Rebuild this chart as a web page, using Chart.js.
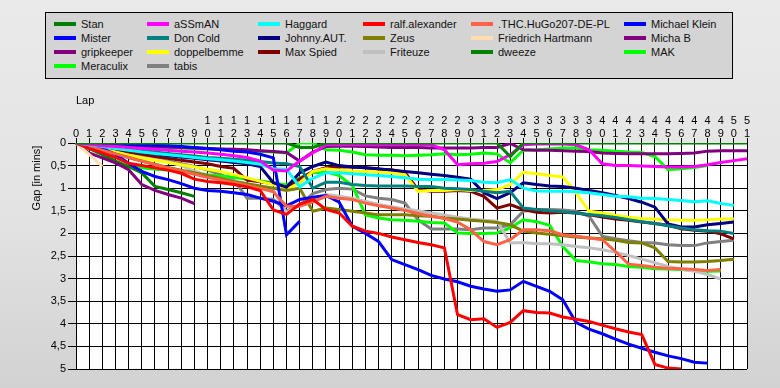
<!DOCTYPE html>
<html>
<head>
<meta charset="utf-8">
<script src="https://cdn.jsdelivr.net/npm/chart.js@4"></script>
<style>
html,body{margin:0;padding:0;}
body{width:780px;height:388px;overflow:hidden;position:relative;
  background:linear-gradient(to bottom,#eaeaea 0%,#e3e3e3 55%,#d2d2d2 100%);
  font-family:"Liberation Sans",Arial,sans-serif;}
#c{position:absolute;left:0;top:0;}
#legendBox{position:absolute;left:45px;top:12px;width:688px;height:67px;box-sizing:border-box;
  background:#d4d4d4;border:1px solid #000;}
.item{position:absolute;height:14px;font-size:11px;line-height:14px;color:#111;white-space:nowrap;}
.item i{position:absolute;left:0;top:5px;width:22px;height:4px;}
.item span{position:absolute;left:27px;top:0;}
#ytitle{position:absolute;left:-5px;top:171px;width:82px;height:14px;line-height:14px;
  font-size:11px;text-align:center;color:#000;transform:rotate(-90deg);white-space:nowrap;}
</style>
</head>
<body>
<canvas id="c" width="780" height="388"></canvas>
<div id="legendBox"></div>
<div id="ytitle">Gap [in mins]</div>
<script>
// ---- data ----
const laps = [0,1,2,3,4,5,6,7,8,9,10,11,12,13,14,15,16,17,18,19,20,21,22,23,24,25,26,27,28,29,30,31,32,33,34,35,36,37,38,39,40,41,42,43,44,45,46,47,48,49,50,51];
const yTicks = [0,0.5,1,1.5,2,2.5,3,3.5,4,4.5,5];

const stan = [0,0,0,0,0,0,0,0,0,0, 0,0,0,0,0,0,0,0.1,0.1,0, 0,0,0,0,0,0,0,0,0,0, 0,0,0,0.3,0,0,0,0,0,0, 0,0,0,0,0,0,0,0,0,0, 0,0];
const assman = [0,0.03,0.06,0.08,0.1,0.12,0.14,0.16,0.18,0.2, 0.22,0.25,0.28,0.32,0.4,0.6,0.62,0.4,0.22,0.04, 0.04,0.04,0.04,0.04,0.04,0.04,0.04,0.04,0.15,0.48, 0.46,0.45,0.41,0.26,0.04,0.02,0.02,0.02,0.04,0.15, 0.46,0.5,0.5,0.51,0.52,0.53,0.53,0.52,0.48,0.43, 0.39,0.35];
const haggard = [0,0.04,0.08,0.12,0.16,0.2,0.23,0.26,0.29,0.32, 0.35,0.37,0.4,0.43,0.47,0.57,0.58,0.97,0.78,0.66, 0.66,0.68,0.7,0.72,0.74,0.77,0.8,0.81,0.81,0.82, 0.83,0.87,0.88,0.81,1.0,1.06,1.07,1.07,1.08,1.1, 1.14,1.18,1.19,1.22,1.23,1.25,1.27,1.3,1.28,1.34, 1.38];
const ralf = [0,0.12,0.22,0.32,0.45,0.5,0.55,0.6,0.67,0.8, 0.85,0.88,0.92,0.97,1.05,1.48,1.58,1.35,1.25,1.47, 1.55,1.84,1.95,2.0,2.08,2.14,2.2,2.25,2.32,3.8, 3.91,3.89,4.08,3.97,3.71,3.75,3.76,3.85,3.9,3.95, 4.03,4.11,4.18,4.24,4.9,4.98,5.0];
const thc = [0,0.08,0.16,0.24,0.32,0.4,0.48,0.55,0.62,0.69, 0.76,0.82,0.88,0.94,1.0,1.08,1.4,1.4,1.3,1.18, 1.22,1.25,1.33,1.39,1.44,1.49,1.56,1.62,1.67,1.75, 1.92,2.18,2.25,2.14,1.92,1.92,1.94,2.03,2.06,2.1, 2.14,2.4,2.68,2.71,2.75,2.77,2.78,2.8,2.82,2.8];
const michaelKlein = [0,0.05,0.12,0.25,0.45,0.63,0.74,0.81,0.9,1.0, 1.05,1.07,1.1,1.14,1.22,1.29,1.39,1.25,1.2,1.16, 1.31,1.84,2.0,2.18,2.58,2.69,2.8,2.93,3.01,3.07, 3.17,3.23,3.28,3.25,3.06,3.17,3.28,3.47,3.97,4.12, 4.22,4.34,4.45,4.54,4.63,4.71,4.77,4.85,4.87];
const mister = [0,0.01,0.02,0.03,0.04,0.05,0.05,0.06,0.08,0.1, 0.12,0.15,0.18,0.2,0.25,0.33,2.03,1.73];
const donCold = [0,0.04,0.08,0.11,0.14,0.17,0.2,0.23,0.26,0.29, 0.32,0.34,0.36,0.38,0.41,0.44,0.46,0.52,1.0,0.87, 0.87,0.92,0.94,0.95,0.95,0.95,0.96,0.96,1.0,1.01, 1.03,1.07,1.1,1.07,1.44,1.47,1.5,1.52,1.55,1.58, 1.61,1.65,1.7,1.74,1.78,1.83,1.88,1.92,1.94,1.95, 2.0];
const johnny = [0,0.04,0.08,0.12,0.16,0.2,0.24,0.28,0.31,0.34, 0.37,0.4,0.43,0.46,0.52,0.88,0.98,0.66,0.52,0.42, 0.5,0.53,0.55,0.57,0.6,0.63,0.66,0.69,0.72,0.76, 0.8,1.1,1.23,1.1,0.88,0.92,0.95,0.96,1.0,1.05, 1.1,1.16,1.23,1.31,1.42,1.79,1.86,1.86,1.81,1.78, 1.75];
const zeus = [0,0.08,0.16,0.24,0.32,0.4,0.47,0.54,0.6,0.66, 0.72,0.78,0.85,0.9,0.95,1.0,1.05,1.0,1.51,1.44, 1.47,1.51,1.55,1.59,1.59,1.59,1.61,1.62,1.66,1.68, 1.71,1.73,1.76,1.81,1.95,1.99,2.02,2.05,2.08,2.1, 2.12,2.15,2.2,2.21,2.32,2.62,2.63,2.63,2.62,2.6, 2.57];
const friedrich = [0,0.25,0.52];
const michaB = [0,0.02,0.04,0.05,0.06,0.07,0.08,0.09,0.1,0.11, 0.12,0.13,0.14,0.15,0.17,0.19,0.21,0.4,0.2,0.08, 0.07,0.07,0.08,0.09,0.1,0.1,0.1,0.11,0.11,0.11, 0.11,0.1,0.1,0.01,0.15,0.16,0.16,0.17,0.18,0.19, 0.22,0.23,0.24,0.24,0.24,0.24,0.23,0.22,0.18,0.17, 0.17,0.17];
const gripkeeper = [0,0.22,0.33,0.44,0.59,0.92,1.05,1.14,1.22,1.34];
const doppelbemme = [0,0.05,0.12,0.2,0.27,0.33,0.38,0.43,0.48,0.53, 0.58,0.63,0.7,0.77,0.85,0.92,1.03,0.88,0.63,0.57, 0.6,0.62,0.63,0.64,0.66,0.7,1.07,1.05,1.05,1.03, 1.05,1.05,1.03,0.92,0.65,0.68,0.72,0.75,1.1,1.51, 1.55,1.6,1.64,1.67,1.68,1.7,1.71,1.71,1.7,1.68, 1.68];
const maxSpied = [0,0.05,0.1,0.15,0.2,0.25,0.3,0.34,0.38,0.42, 0.46,0.52,0.56,0.82,0.86,0.9,0.98,0.8,0.63,0.55, 0.53,0.53,0.55,0.58,0.59,0.65,1.03,1.07,1.07,1.05, 1.07,1.18,1.44,1.36,1.47,1.53,1.55,1.53,1.55,1.59, 1.64,1.68,1.71,1.75,1.78,1.82,1.9,1.93,1.95,2.01, 2.12];
const friteuze = [0,0.06,0.12,0.18,0.24,0.3,0.36,0.42,0.5,0.62, 0.72,0.78,0.84,0.9,0.97,1.05,1.55,1.35,1.22,1.14, 1.18,1.22,1.29,1.36,1.41,1.46,1.5,1.55,1.59,1.64, 1.68,1.71,1.73,2.21,2.2,2.23,2.23,2.25,2.29,2.32, 2.36,2.42,2.49,2.57,2.65,2.73,2.79,2.84,2.91,3.01];
const dweeze = [0,0.12,0.25,0.4,0.52,0.66,0.96,1.03,1.1,1.18];
const mak = [0,0.02,0.04,0.06,0.07,0.08,0.09,0.1,0.11,0.12, 0.13,0.14,0.15,0.16,0.18,0.2,0.22,0,0,0.15, 0.16,0.2,0.26,0.27,0.27,0.28,0.27,0.26,0.24,0.26, 0.25,0.22,0.24,0.44,0.16,0.15,0.13,0.11,0.11,0.15, 0.16,0.18,0.2,0.21,0.3,0.59,0.57,0.54,0.5];
const meraculix = [0,0.12,0.26,0.44,0.52,0.55,0.58,0.6,0.63,0.66, 0.7,0.73,0.76,0.8,0.84,0.88,0.93,0.77,0.66,0.64, 0.72,0.94,1.59,1.66,1.7,1.71,1.73,1.76,1.77,1.99, 2.0,2.0,1.99,1.88,1.7,1.74,1.82,2.29,2.6,2.63, 2.67,2.69,2.73,2.75,2.78,2.79,2.8,2.82,2.84,2.83];
const tabis = [0,0.05,0.1,0.16,0.22,0.28,0.34,0.4,0.46,0.52, 0.6,0.7,0.82,1.22,1.22,1.25,1.5,1.38,1.12,1.03, 1.0,1.02,1.17,1.22,1.25,1.33,1.7,1.9,1.9,1.9, 1.92,1.88,1.88,1.81,1.51,1.47,1.47,1.48,1.51,1.62, 2.06,2.12,2.16,2.2,2.21,2.25,2.27,2.27,2.21,2.18, 2.15];

// legend order (row-major, 6 columns)
const seriesNames = ['Stan','aSSmAN','Haggard','ralf.alexander','.THC.HuGo207-DE-PL','Michael Klein',
  'Mister','Don Cold','Johnny.AUT.','Zeus','Friedrich Hartmann','Micha B',
  'gripkeeper','doppelbemme','Max Spied','Friteuze','dweeze','MAK',
  'Meraculix','tabis'];
const seriesValues = [stan,assman,haggard,ralf,thc,michaelKlein,
  mister,donCold,johnny,zeus,friedrich,michaB,
  gripkeeper,doppelbemme,maxSpied,friteuze,dweeze,mak,
  meraculix,tabis];
const seriesColors = ['#008000','#ff00ff','#00ffff','#ff0000','#ff6347','#0000ff',
  '#0000ff','#008080','#000080','#808000','#ffdead','#800080',
  '#800080','#ffff00','#800000','#c0c0c0','#008000','#00ff00',
  '#00ff00','#808080'];

// ---- layout ----
const FONT = '"Liberation Sans", Arial, sans-serif';
const legendCols = [54,147,258,363,471,624];
const legendRowTop = 17, legendRowStep = 14;

const box = document.getElementById('legendBox');
seriesNames.forEach((n, i) => {
  const d = document.createElement('div');
  d.className = 'item';
  d.style.left = (legendCols[i % 6] - 45 - 1) + 'px';
  d.style.top = (legendRowTop + Math.floor(i / 6) * legendRowStep - 12 - 1) + 'px';
  const sw = document.createElement('i');
  sw.style.background = seriesColors[i];
  const t = document.createElement('span');
  t.textContent = n;
  d.appendChild(sw); d.appendChild(t);
  box.appendChild(d);
});

const lapLabels = laps.map(l => l >= 10 ? [String(Math.floor(l / 10)), String(l % 10)] : ['', String(l)]);

const datasets = seriesNames.map((n, i) => ({
  label: n,
  data: seriesValues[i],
  borderColor: seriesColors[i],
  backgroundColor: seriesColors[i],
  borderWidth: 3,
  pointRadius: 0,
  tension: 0,
  fill: false
}));

const plotBg = {
  id: 'plotBg',
  beforeDraw(c) {
    const a = c.chartArea, ctx = c.ctx;
    ctx.save();
    ctx.fillStyle = '#ffffff';
    ctx.fillRect(a.left, a.top, a.right - a.left, a.bottom - a.top);
    ctx.restore();
  }
};

new Chart(document.getElementById('c'), {
  type: 'line',
  data: { labels: lapLabels, datasets },
  options: {
    responsive: false,
    animation: false,
    layout: { padding: { left: 0, top: 0, right: 33, bottom: 19 } },
    plugins: { legend: { display: false }, tooltip: { enabled: false } },
    scales: {
      x: {
        position: 'top',
        offset: false,
        grid: { color: '#000', lineWidth: 1, tickLength: 5, drawTicks: true },
        border: { color: '#000', width: 1 },
        ticks: { autoSkip: false, maxRotation: 0, minRotation: 0, padding: -2, color: '#000',
          font: { family: FONT, size: 11, lineHeight: '13px' } },
        title: { display: true, text: 'Lap', align: 'start', color: '#000',
          font: { family: FONT, size: 11, lineHeight: 1.2 }, padding: { top: 94, bottom: 0 } },
        afterFit: s => { s.height = 143; }
      },
      y: {
        min: yTicks[0],
        max: yTicks[yTicks.length - 1],
        reverse: true,
        afterBuildTicks: s => { s.ticks = yTicks.map(v => ({ value: v })); },
        grid: { color: '#000', lineWidth: 1, tickLength: 8 },
        border: { color: '#000', width: 1 },
        ticks: { padding: 2, color: '#000', font: { family: FONT, size: 11 },
          callback: v => String(v).replace('.', ',') },
        afterFit: s => { s.width = 76; }
      }
    }
  },
  plugins: [plotBg]
});
</script>
</body>
</html>
